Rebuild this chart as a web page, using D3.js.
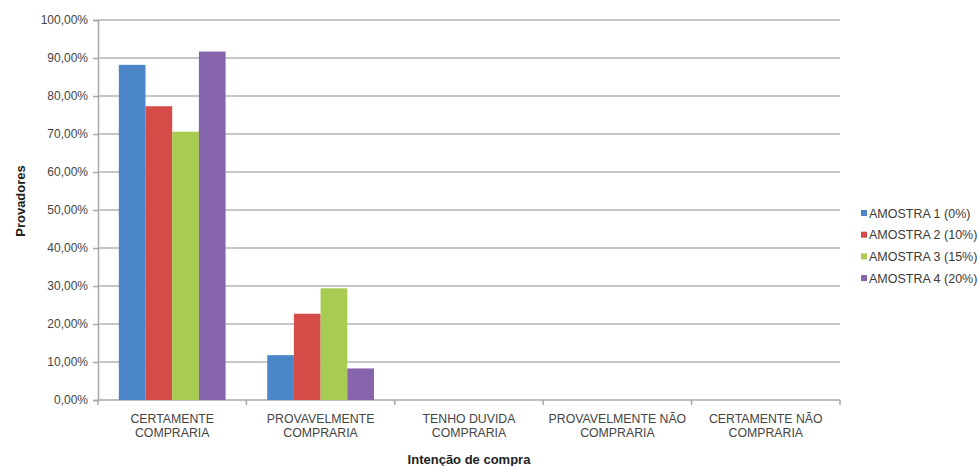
<!DOCTYPE html>
<html>
<head>
<meta charset="utf-8">
<script src="https://cdn.jsdelivr.net/npm/d3@7"></script>
<style>
  html, body { margin: 0; padding: 0; background: #fff; }
  svg { display: block; font-family: "Liberation Sans", Arial, sans-serif; }
</style>
</head>
<body>
<svg id="chart" width="978" height="466"></svg>
<script>
// Purchase-intention categories (two-line labels)
const categories = [
  ["CERTAMENTE", "COMPRARIA"],
  ["PROVAVELMENTE", "COMPRARIA"],
  ["TENHO DUVIDA", "COMPRARIA"],
  ["PROVAVELMENTE NÃO", "COMPRARIA"],
  ["CERTAMENTE NÃO", "COMPRARIA"]
];
const seriesNames = ["AMOSTRA 1 (0%)", "AMOSTRA 2 (10%)", "AMOSTRA 3 (15%)", "AMOSTRA 4 (20%)"];
const amostra1 = [88.2, 11.8, 0, 0, 0];
const amostra2 = [77.3, 22.7, 0, 0, 0];
const amostra3 = [70.6, 29.4, 0, 0, 0];
const amostra4 = [91.7, 8.3, 0, 0, 0];
const yTicks = [0, 10, 20, 30, 40, 50, 60, 70, 80, 90, 100];
const colors = ["#4a86c8", "#d44b47", "#a8cb52", "#8765ad"];

const series = [amostra1, amostra2, amostra3, amostra4];

const svg = d3.select("#chart");
const plotLeft = 98, plotRight = 840, plotTop = 20, plotBottom = 400;

const x = d3.scaleBand().domain(d3.range(categories.length)).range([plotLeft, plotRight]).padding(0);
const xInner = d3.scaleBand().domain(d3.range(series.length))
  .range([0, x.bandwidth()]).paddingOuter(0.78).paddingInner(0);
const y = d3.scaleLinear().domain([0, 100]).range([plotBottom, plotTop]);

const fmt = v => v.toFixed(2).replace(".", ",") + "%";

// gridlines
svg.append("g").selectAll("line").data(yTicks.filter(t => t > 0)).join("line")
  .attr("x1", plotLeft).attr("x2", plotRight)
  .attr("y1", d => y(d)).attr("y2", d => y(d))
  .attr("stroke", "#b4b4b4").attr("stroke-width", 1.5);

// y axis
const yAxis = svg.append("g").attr("transform", `translate(${plotLeft},0)`)
  .call(d3.axisLeft(y).tickValues(yTicks).tickFormat(fmt).tickSize(5).tickPadding(5));
yAxis.select(".domain").attr("stroke", "#a8a8a8").attr("stroke-width", 1.5);
yAxis.selectAll(".tick line").attr("stroke", "#a8a8a8").attr("stroke-width", 1.5);
yAxis.selectAll("text").attr("font-size", 12).attr("fill", "#444")
  .attr("font-family", "Liberation Sans, Arial, sans-serif");

// x axis
const xAxisG = svg.append("g").attr("transform", `translate(0,${plotBottom})`);
xAxisG.append("line").attr("x1", plotLeft).attr("x2", plotRight)
  .attr("stroke", "#a8a8a8").attr("stroke-width", 1.5);
xAxisG.selectAll("line.tk").data(d3.range(categories.length + 1)).join("line")
  .attr("class", "tk")
  .attr("x1", i => i < categories.length ? x(i) : plotRight)
  .attr("x2", i => i < categories.length ? x(i) : plotRight)
  .attr("y1", 0).attr("y2", 5)
  .attr("stroke", "#a8a8a8").attr("stroke-width", 1.5);
const catLabels = xAxisG.selectAll("text.cat").data(categories).join("text")
  .attr("class", "cat")
  .attr("x", (d, i) => x(i) + x.bandwidth() / 2)
  .attr("y", 23)
  .attr("text-anchor", "middle")
  .attr("font-size", 12.3).attr("fill", "#444");
catLabels.each(function(d) {
  const t = d3.select(this);
  d.forEach((line, k) => {
    t.append("tspan").attr("x", t.attr("x")).attr("dy", k === 0 ? 0 : 14).text(line);
  });
});

// bars
const groups = svg.append("g").selectAll("g").data(categories).join("g")
  .attr("transform", (d, i) => `translate(${x(i)},0)`);
groups.selectAll("rect").data((d, i) => series.map((s, k) => ({ k, v: s[i] }))).join("rect")
  .attr("x", d => xInner(d.k))
  .attr("width", xInner.bandwidth())
  .attr("y", d => y(d.v))
  .attr("height", d => plotBottom - y(d.v))
  .attr("fill", d => colors[d.k]);

// axis titles
svg.append("text")
  .attr("transform", `translate(25,201) rotate(-90)`)
  .attr("text-anchor", "middle")
  .attr("font-size", 13).attr("font-weight", "bold").attr("fill", "#222")
  .text("Provadores");
svg.append("text")
  .attr("x", (plotLeft + plotRight) / 2).attr("y", 464)
  .attr("text-anchor", "middle")
  .attr("font-size", 13).attr("font-weight", "bold").attr("fill", "#222")
  .text("Intenção de compra");

// legend
const legend = svg.append("g").selectAll("g").data(seriesNames).join("g")
  .attr("transform", (d, i) => `translate(861,${213 + i * 21.7})`);
legend.append("rect").attr("x", 0).attr("y", -3).attr("width", 6).attr("height", 6)
  .attr("fill", (d, i) => colors[i]);
legend.append("text").attr("x", 8).attr("y", 4.5)
  .attr("font-size", 12.5).attr("fill", "#3a3a3a")
  .text(d => d);
</script>
</body>
</html>
